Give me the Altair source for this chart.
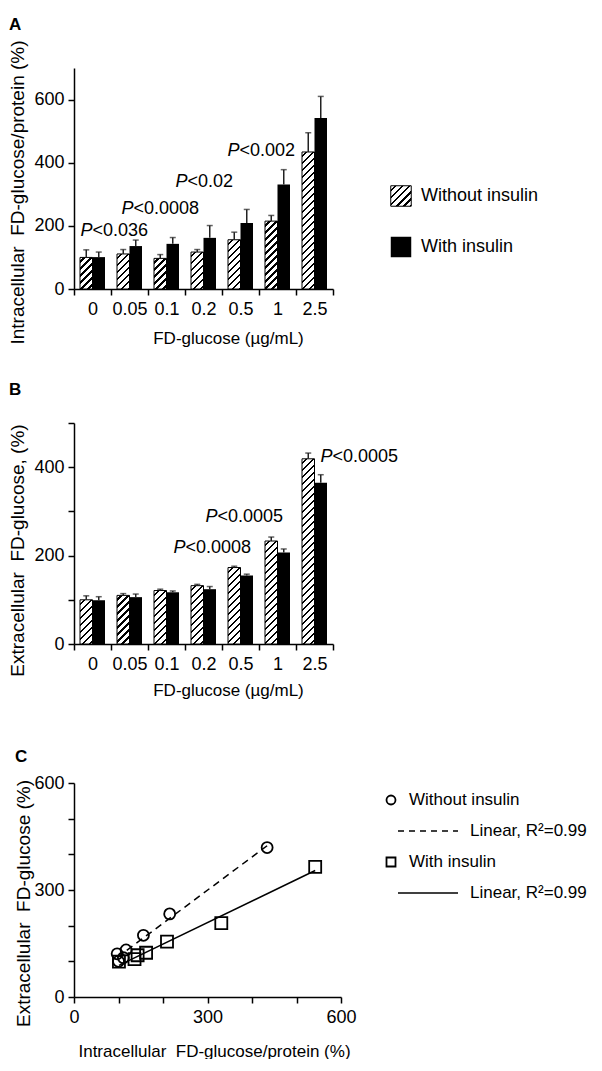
import altair as alt
import pandas as pd

# ---------------- data ----------------
doses = ["0", "0.05", "0.1", "0.2", "0.5", "1", "2.5"]
groups = ["Without insulin", "With insulin"]

intra_without = [100, 111, 97, 117, 156, 215, 434]
intra_without_err = [24, 14, 12, 8, 24, 18, 61]
intra_with = [101, 136, 143, 162, 209, 331, 542]
intra_with_err = [16, 19, 20, 39, 43, 47, 68]

extra_without = [100, 110, 121, 132, 173, 233, 419]
extra_without_err = [9, 4, 3, 3, 3, 9, 13]
extra_with = [99, 106, 117, 124, 155, 207, 365]
extra_with_err = [8, 7, 3, 6, 3, 8, 18]

pa_doses = ["0", "0.05", "0.2", "0.5"]
pa_texts = ["<0.036", "<0.0008", "<0.02", "<0.002"]
pa_values = [184, 254, 340, 438]

pb_doses = ["0.2", "0.5", "2.5"]
pb_texts = ["<0.0008", "<0.0005", "<0.0005"]
pb_values = [217, 288, 423]

legend_c_labels = ["Without insulin", "Linear, R²=0.99", "With insulin", "Linear, R²=0.99"]

# ---------------- layout / style ----------------
FONT = "Liberation Sans"
PW = 259
PH = 221
CW, CH = 267, 214
OFF_PAD = 0.48
PA_DX = [0, 4, -16, -1]
PB_DX = [-18, -23, 18]
YT_SIZE = 19


def hatch_fill(w, h, period=7.0, ink=2.4):
    L = w + h
    c = L / (w * w + h * h)
    stops = [alt.GradientStop(offset=0, color="white")]
    s = period * 0.5
    while s < L:
        a = s / L
        b = min((s + ink) / L, 1.0)
        stops += [alt.GradientStop(offset=a, color="white"),
                  alt.GradientStop(offset=a, color="black"),
                  alt.GradientStop(offset=b, color="black"),
                  alt.GradientStop(offset=b, color="white")]
        s += period
    stops.append(alt.GradientStop(offset=1, color="white"))
    return alt.LinearGradient(gradient="linear", stops=stops, x1=0, y1=0, x2=c * w, y2=c * h)


def bar_panel(v0, e0, v1, e1, ymax, ytitle, letter, p_doses, p_texts, p_values, p_dx,
              title_offset, title_y, xtitle_pad):
    rows = []
    for i, d in enumerate(doses):
        rows.append({"dose": d, "group": groups[0], "value": v0[i], "err": e0[i]})
        rows.append({"dose": d, "group": groups[1], "value": v1[i], "err": e1[i]})
    df = pd.DataFrame(rows)

    X = alt.X("dose:N", scale=alt.Scale(domain=doses, paddingInner=0, paddingOuter=0),
              axis=alt.Axis(title="FD-glucose (µg/mL)", labelAngle=0, tickBand="extent",
                            labelPadding=5, titlePadding=xtitle_pad, titleX=154, labelOverlap=False))
    Y = alt.Y("value:Q", scale=alt.Scale(domain=[0, ymax], nice=False),
              axis=alt.Axis(title=ytitle, values=list(range(0, ymax + 1, 100)),
                            labelExpr="datum.value % 200 === 0 ? datum.label : ''",
                            labelPadding=4, titlePadding=6, titleY=title_y, labelOverlap=False,
                            titleFontSize=YT_SIZE))
    XO = alt.XOffset("group:N", scale=alt.Scale(domain=groups, paddingInner=0, paddingOuter=OFF_PAD))

    base = alt.Chart(df)
    layers = [base.transform_filter(alt.datum.group == groups[1])
              .mark_bar(color="black").encode(x=X, xOffset=XO, y=Y)]

    bar_w = (PW / len(doses)) / (2 + 2 * OFF_PAD)
    for i, d in enumerate(doses):
        h = v0[i] / ymax * PH
        layers.append(
            base.transform_filter((alt.datum.group == groups[0]) & (alt.datum.dose == d))
            .mark_bar(fill=hatch_fill(bar_w, h), stroke="black", strokeWidth=1)
            .encode(x=X, xOffset=XO, y=Y))

    err = base.transform_calculate(top="datum.value + datum.err")
    layers.append(err.mark_rule(color="#222", strokeWidth=1.5)
                  .encode(x=X, xOffset=XO, y=Y, y2="top:Q"))
    layers.append(err.mark_tick(color="#222", thickness=1.5, size=6, orient="horizontal")
                  .encode(x=X, xOffset=XO, y=alt.Y("top:Q", scale=alt.Scale(domain=[0, ymax], nice=False))))

    pdf = pd.DataFrame({"dose": p_doses, "rest": p_texts, "value": p_values})
    for i in range(len(p_doses)):
        pb = alt.Chart(pdf).transform_filter(alt.datum.dose == p_doses[i]).transform_filter(
            alt.datum.rest == p_texts[i])
        layers.append(pb.mark_text(text="P", fontStyle="italic", align="right", baseline="middle",
                                   fontSize=18, dx=p_dx[i], color="black").encode(x=X, y=Y))
        layers.append(pb.mark_text(align="left", baseline="middle", fontSize=18, dx=p_dx[i],
                                   color="black").encode(x=X, y=Y, text="rest:N"))

    return alt.layer(*layers).properties(
        width=PW, height=PH,
        title=alt.TitleParams(text=letter, anchor="start", frame="bounds", offset=title_offset,
                              fontSize=17, fontWeight="bold"))


plotA = bar_panel(intra_without, intra_without_err, intra_with, intra_with_err, 700,
                  "Intracellular\u00a0 FD-glucose/protein (%)", "A",
                  pa_doses, pa_texts, pa_values, PA_DX, 6, 124, 12)
plotB = bar_panel(extra_without, extra_without_err, extra_with, extra_with_err, 500,
                  "Extracellular\u00a0 FD-glucose, (%)", "B",
                  pb_doses, pb_texts, pb_values, PB_DX, 15, 127, 9)

# legend A
legA_df = pd.DataFrame({"row": [0, 1], "label": groups})
YLA = alt.Y("row:O", scale=alt.Scale(type="point", domain=[0, 1], range=[128, 179], padding=0), axis=None)
legA_base = alt.Chart(legA_df)
legA = alt.layer(
    legA_base.transform_filter(alt.datum.row == 0)
    .mark_square(size=420, fill=hatch_fill(20, 20), stroke="black", strokeWidth=1, opacity=1)
    .encode(x=alt.value(11), y=YLA),
    legA_base.transform_filter(alt.datum.row == 1)
    .mark_square(size=420, color="black", opacity=1, filled=True)
    .encode(x=alt.value(11), y=YLA),
    legA_base.mark_text(align="left", baseline="middle", fontSize=18, color="black")
    .encode(x=alt.value(31), y=YLA, text="label:N"),
).properties(width=190, height=PH)

# panel C
dfC = pd.DataFrame({
    "x": intra_without + intra_with,
    "y": extra_without + extra_with,
    "group": [groups[0]] * len(doses) + [groups[1]] * len(doses),
})
XC = alt.X("x:Q", scale=alt.Scale(domain=[0, 600], nice=False),
           axis=alt.Axis(title="Intracellular\u00a0 FD-glucose/protein (%)", values=list(range(0, 601, 100)),
                         labelExpr="datum.value % 300 === 0 ? datum.label : ''",
                         labelPadding=5, titlePadding=17, titleX=140, labelOverlap=False,
                         labelFlush=False))
YC = alt.Y("y:Q", scale=alt.Scale(domain=[0, 600], nice=False),
           axis=alt.Axis(title="Extracellular\u00a0 FD-glucose (%)", values=list(range(0, 601, 100)),
                         labelExpr="datum.value % 300 === 0 ? datum.label : ''",
                         labelPadding=4, titlePadding=0, titleY=120, labelOverlap=False,
                         labelFlush=False, titleFontSize=YT_SIZE))
cb = alt.Chart(dfC)
plotC = alt.layer(
    cb.transform_filter(alt.datum.group == groups[0]).transform_regression("x", "y")
    .mark_line(color="black", strokeWidth=1.5, strokeDash=[7, 5]).encode(x=XC, y=YC),
    cb.transform_filter(alt.datum.group == groups[1]).transform_regression("x", "y")
    .mark_line(color="black", strokeWidth=1.5).encode(x=XC, y=YC),
    cb.transform_filter(alt.datum.group == groups[0])
    .mark_point(shape="circle", size=121, filled=False, color="black", strokeWidth=1.8, opacity=1)
    .encode(x=XC, y=YC),
    cb.transform_filter(alt.datum.group == groups[1])
    .mark_point(shape="square", size=144, filled=False, color="black", strokeWidth=1.8, opacity=1)
    .encode(x=XC, y=YC),
).properties(width=CW, height=CH,
             title=alt.TitleParams(text="C", anchor="start", frame="bounds", offset=8,
                                   fontSize=17, fontWeight="bold"))

legC_df = pd.DataFrame({"row": [0, 1, 2, 3], "label": legend_c_labels})
YLC = alt.Y("row:O", scale=alt.Scale(type="point", domain=[0, 1, 2, 3], range=[17, 110], padding=0), axis=None)
lcb = alt.Chart(legC_df)
legC = alt.layer(
    lcb.transform_filter(alt.datum.row == 0)
    .mark_point(shape="circle", size=81, filled=False, color="black", strokeWidth=1.8, opacity=1)
    .encode(x=alt.value(5), y=YLC),
    lcb.transform_filter(alt.datum.row == 2)
    .mark_point(shape="square", size=81, filled=False, color="black", strokeWidth=1.8, opacity=1)
    .encode(x=alt.value(5), y=YLC),
    lcb.transform_filter(alt.datum.row == 1)
    .mark_rule(color="black", strokeWidth=1.5, strokeDash=[6, 5])
    .encode(x=alt.value(12), x2=alt.value(72), y=YLC),
    lcb.transform_filter(alt.datum.row == 3)
    .mark_rule(color="black", strokeWidth=1.5)
    .encode(x=alt.value(12), x2=alt.value(72), y=YLC),
    lcb.transform_filter((alt.datum.row == 0) | (alt.datum.row == 2))
    .mark_text(align="left", baseline="middle", fontSize=17, color="black")
    .encode(x=alt.value(23), y=YLC, text="label:N"),
    lcb.transform_filter((alt.datum.row == 1) | (alt.datum.row == 3))
    .mark_text(align="left", baseline="middle", fontSize=17, color="black")
    .encode(x=alt.value(84), y=YLC, text="label:N"),
).properties(width=200, height=CH)

rowA = alt.hconcat(plotA, legA, spacing=54)
rowB = alt.hconcat(plotB)
rowC = alt.hconcat(plotC, legC, spacing=25)

chart = alt.vconcat(alt.vconcat(rowA, rowB, spacing=35), rowC, spacing=50).properties(
    padding={"left": 0, "top": 7, "right": 0, "bottom": 0}
).configure(font=FONT).configure_view(stroke=None).configure_axis(
    labelFont=FONT, titleFont=FONT, labelFontSize=18, titleFontSize=17, titleFontWeight="normal",
    labelColor="black", titleColor="black", domainColor="black", tickColor="black",
    domainWidth=1.5, tickWidth=1.5, tickSize=6, grid=False
).configure_title(font=FONT, color="black", anchor="start")

chart.save("out.html", embed_options={"renderer": "svg", "actions": False})
